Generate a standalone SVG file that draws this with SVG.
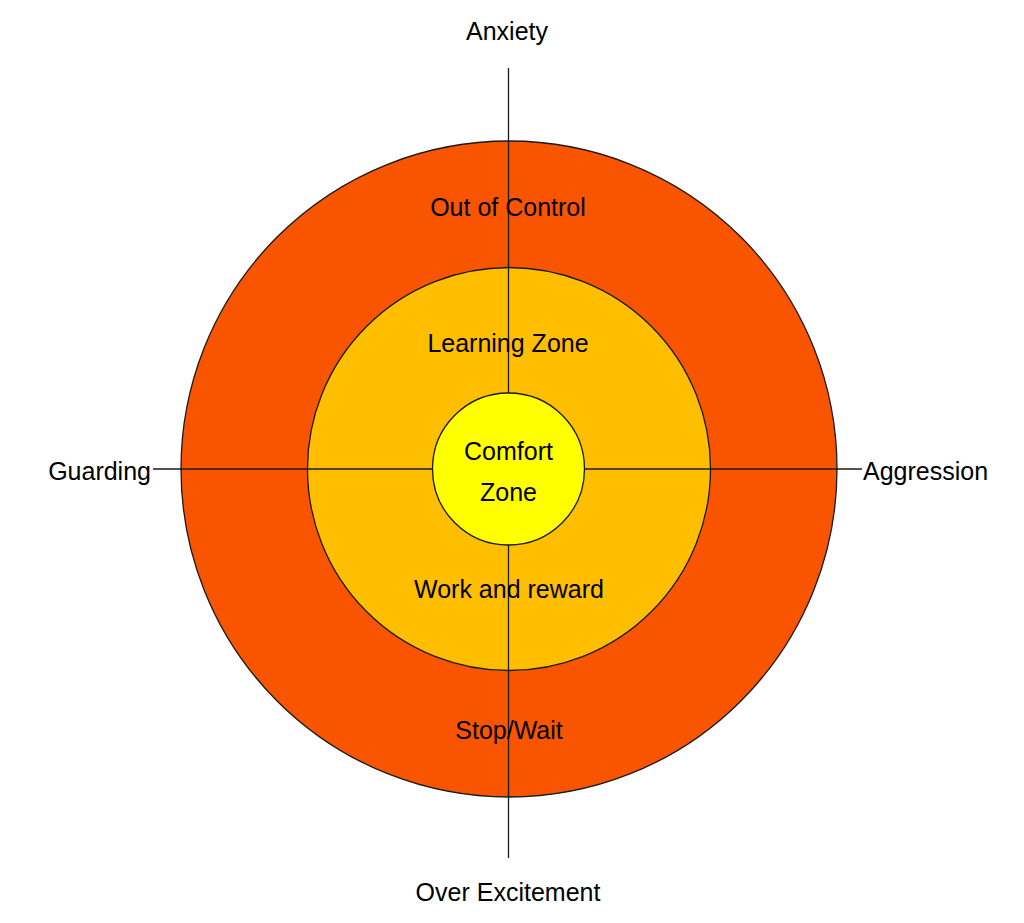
<svg xmlns="http://www.w3.org/2000/svg" width="1024" height="923" viewBox="0 0 1024 923">
<style>
text{font-family:"Liberation Sans",Arial,sans-serif;font-size:25px;fill:#000;text-anchor:middle}
.ring{stroke:#1a1a1a;stroke-width:1.3}
.ax{stroke:#1a1a1a;stroke-width:1.3;fill:none}
</style>
<rect width="1024" height="923" fill="#fff"/>
<g id="outer"><circle class="ring" cx="509" cy="469" r="328" fill="#F95400"/></g>
<g id="middle"><circle class="ring" cx="509" cy="469" r="201.5" fill="#FFBF00"/></g>
<g id="connectors">
<line class="ax" x1="508.5" y1="68" x2="508.5" y2="858"/>
<line class="ax" x1="153" y1="469" x2="862" y2="469"/>
</g>
<g id="inner"><circle class="ring" cx="508.5" cy="469" r="76" fill="#FFFF00"/>
<text x="508.5" y="460">Comfort</text><text x="508.5" y="501">Zone</text></g>
<g id="labels">
<text x="507" y="40">Anxiety</text>
<text x="508" y="216">Out of Control</text>
<text x="508" y="352">Learning Zone</text>
<text x="509" y="598">Work and reward</text>
<text x="509" y="739">Stop/Wait</text>
<text x="508" y="901">Over Excitement</text>
<text x="151" y="480" style="text-anchor:end">Guarding</text>
<text x="863" y="480" style="text-anchor:start">Aggression</text>
</g>
</svg>
